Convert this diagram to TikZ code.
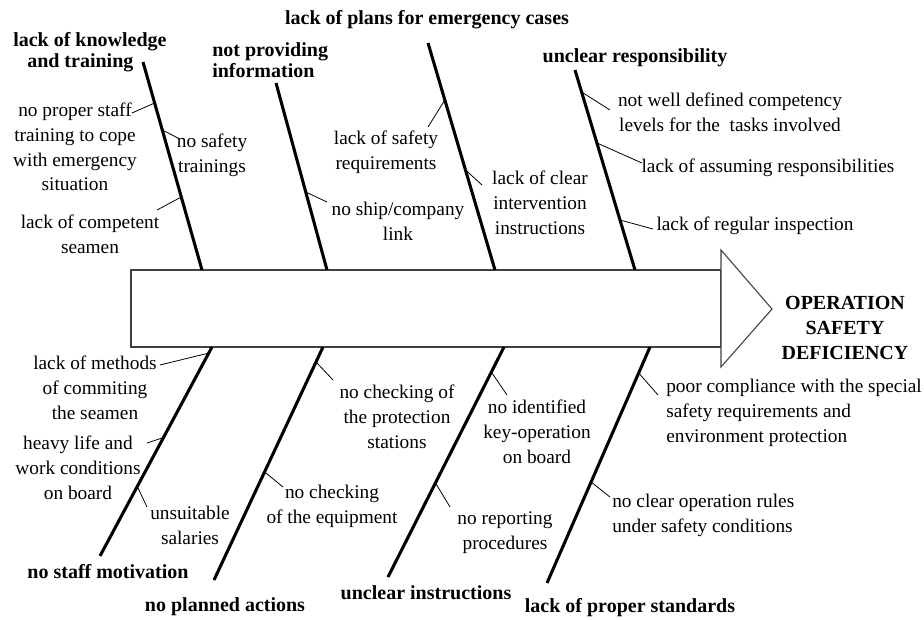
\documentclass[tikz,border=0pt]{standalone}
\usepackage{fontspec}
\setmainfont{Liberation Serif}
\usetikzlibrary{calc}
\begin{document}
\begin{tikzpicture}[x=0.75pt,y=-0.75pt,
  bone/.style={line width=2.3pt},
  twig/.style={line width=0.6pt},
  spine/.style={draw=black!75,line width=0.8pt,fill=white},
  cause/.style={font=\bfseries\fontsize{15}{15.6}\selectfont,align=center,inner sep=0pt},
  effect/.style={font=\bfseries\fontsize{15}{18.8}\selectfont,align=center,inner sep=0pt},
  sub/.style={font=\fontsize{14.5}{18.6}\selectfont,align=center,inner sep=0pt},
  subl/.style={font=\fontsize{14.5}{18.6}\selectfont,align=left,inner sep=0pt,anchor=west}]
\useasboundingbox (0,0) rectangle (924,619);

% spine arrow
\draw[spine] (131,270) rectangle (721,347);
\draw[spine] (721,250) -- (772,309) -- (721,367) -- cycle;

% top bones
\coordinate (t1a) at (202,270); \coordinate (t1b) at (143,62);
\coordinate (t2a) at (327,270); \coordinate (t2b) at (276,83);
\coordinate (t3a) at (495,270); \coordinate (t3b) at (428,43);
\coordinate (t4a) at (635,270); \coordinate (t4b) at (575,70);
\draw[bone] (t1a) -- (t1b);
\draw[bone] (t2a) -- (t2b);
\draw[bone] (t3a) -- (t3b);
\draw[bone] (t4a) -- (t4b);

% bottom bones
\coordinate (b1a) at (212,347); \coordinate (b1b) at (100,556);
\coordinate (b2a) at (323,347); \coordinate (b2b) at (214,580);
\coordinate (b3a) at (504,347); \coordinate (b3b) at (388,577);
\coordinate (b4a) at (650,347); \coordinate (b4b) at (547,583);
\draw[bone] (b1a) -- (b1b);
\draw[bone] (b2a) -- (b2b);
\draw[bone] (b3a) -- (b3b);
\draw[bone] (b4a) -- (b4b);

% main cause labels
\node[cause,align=left,anchor=west] (c1) at (13,52) {lack of knowledge\\\hspace*{10.5pt}and training};
\node[cause,align=left,anchor=west] (c2) at (212,60) {not providing\\information};
\node[cause] (c3) at (427,20) {lack of plans for emergency cases};
\node[cause] (c4) at (635,58) {unclear responsibility};
\node[cause] (c5) at (108,572) {no staff motivation};
\node[cause] (c6) at (225,607) {no planned actions};
\node[cause] (c7) at (426,593) {unclear instructions};
\node[cause] (c8) at (630,608) {lack of proper standards};
\node[effect] (eff) at (845,328) {OPERATION\\SAFETY\\DEFICIENCY};

% sub-causes, top bone 1
\node[sub] (s11) at (75,147) {no proper staff\\training to cope\\with emergency\\situation};
\node[sub] (s12) at (212,155) {no safety\\trainings};
\node[sub] (s13) at (90,234) {lack of competent\\seamen};
\coordinate (p11) at ($(t1b)!0.197!(t1a)$); \coordinate (q11) at (132,113);
\coordinate (p12) at ($(t1b)!0.327!(t1a)$); \coordinate (q12) at (180,139);
\coordinate (p13) at ($(t1b)!0.649!(t1a)$); \coordinate (q13) at (157,210);
\draw[twig] (p11) -- (q11);
\draw[twig] (p12) -- (q12);
\draw[twig] (p13) -- (q13);

% top bone 2
\node[sub] (s21) at (398,221) {no ship/company\\link};
\coordinate (p21) at ($(t2b)!0.583!(t2a)$); \coordinate (q21) at (327,202);
\draw[twig] (p21) -- (q21);

% top bone 3
\node[sub] (s31) at (386,152) {lack of safety\\requirements};
\node[sub] (s32) at (540,203) {lack of clear\\intervention\\instructions};
\coordinate (p31) at ($(t3b)!0.251!(t3a)$); \coordinate (q31) at (428,127);
\coordinate (p32) at ($(t3b)!0.559!(t3a)$); \coordinate (q32) at (482,185);
\draw[twig] (p31) -- (q31);
\draw[twig] (p32) -- (q32);

% top bone 4
\node[sub] (s41) at (730,112) {not well defined competency\\levels for the\ \ tasks involved};
\node[sub] (s42) at (768,168) {lack of assuming responsibilities};
\node[sub] (s43) at (755,226) {lack of regular inspection};
\coordinate (p41) at ($(t4b)!0.11!(t4a)$); \coordinate (q41) at (610,110);
\coordinate (p42) at ($(t4b)!0.365!(t4a)$); \coordinate (q42) at (642,163);
\coordinate (p43) at ($(t4b)!0.75!(t4a)$); \coordinate (q43) at (653,229);
\draw[twig] (p41) -- (q41);
\draw[twig] (p42) -- (q42);
\draw[twig] (p43) -- (q43);

% bottom bone 1
\node[sub] (u11) at (95,388) {lack of methods\\of commiting\\the seamen};
\node[sub] (u12) at (78,468) {heavy life and\\work conditions\\on board};
\node[sub] (u13) at (190,525) {unsuitable\\salaries};
\coordinate (v11) at ($(b1a)!0.029!(b1b)$); \coordinate (w11) at (160,365);
\coordinate (v12) at ($(b1a)!0.433!(b1b)$); \coordinate (w12) at (147,443);
\coordinate (v13) at ($(b1a)!0.667!(b1b)$); \coordinate (w13) at (147,507);
\draw[twig] (v11) -- (w11);
\draw[twig] (v12) -- (w12);
\draw[twig] (v13) -- (w13);

% bottom bone 2
\node[sub] (u21) at (397,417) {no checking of\\the protection\\stations};
\node[sub] (u22) at (332,506) {no checking\\of the equipment};
\coordinate (v21) at ($(b2a)!0.064!(b2b)$); \coordinate (w21) at (333,380);
\coordinate (v22) at ($(b2a)!0.536!(b2b)$); \coordinate (w22) at (283,487);
\draw[twig] (v21) -- (w21);
\draw[twig] (v22) -- (w22);

% bottom bone 3
\node[sub] (u31) at (537,432) {no identified\\key-operation\\on board};
\node[sub] (u32) at (505,533) {no reporting\\procedures};
\coordinate (v31) at ($(b3a)!0.109!(b3b)$); \coordinate (w31) at (507,395);
\coordinate (v32) at ($(b3a)!0.591!(b3b)$); \coordinate (w32) at (450,507);
\draw[twig] (v31) -- (w31);
\draw[twig] (v32) -- (w32);

% bottom bone 4
\node[subl] (u41) at (666,413) {poor compliance with the special\\safety requirements and\\environment protection};
\node[subl] (u42) at (612,515) {no clear operation rules\\under safety conditions};
\coordinate (v41) at ($(b4a)!0.11!(b4b)$); \coordinate (w41) at (658,395);
\coordinate (v42) at ($(b4a)!0.572!(b4b)$); \coordinate (w42) at (610,497);
\draw[twig] (v41) -- (w41);
\draw[twig] (v42) -- (w42);
\end{tikzpicture}
\end{document}
